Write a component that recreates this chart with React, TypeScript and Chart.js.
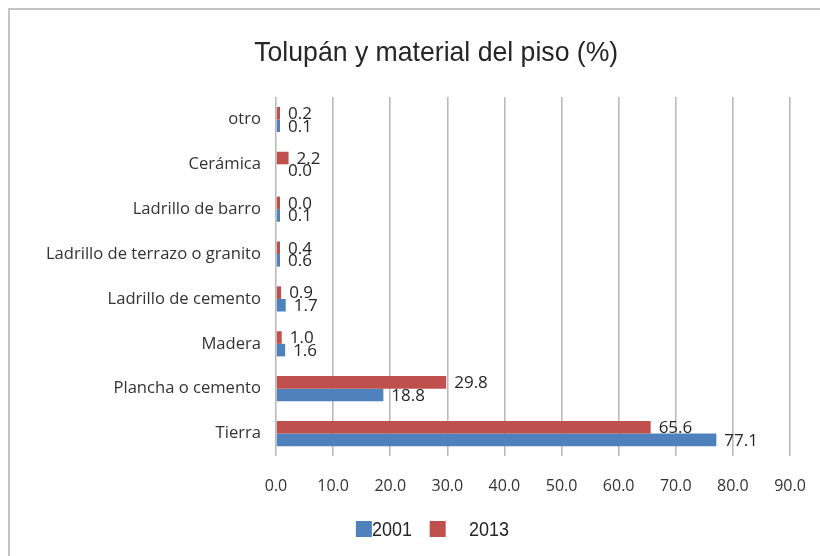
import React, { useEffect, useRef } from 'react';
import { Chart, registerables } from 'chart.js';

Chart.register(...registerables);

const chartTitle = 'Tolupán y material del piso (%)';
const categories = [
  'otro',
  'Cerámica',
  'Ladrillo de barro',
  'Ladrillo de terrazo o granito',
  'Ladrillo de cemento',
  'Madera',
  'Plancha o cemento',
  'Tierra',
];
const seriesNames = ['2001', '2013'];
const values2001 = [0.1, 0.0, 0.1, 0.6, 1.7, 1.6, 18.8, 77.1];
const values2013 = [0.2, 2.2, 0.04, 0.4, 0.9, 1.0, 29.8, 65.6];
const xMin = 0;
const xMax = 90;
const xStep = 10;

const BLUE = '#4F81BD';
const RED = '#C0504D';
const TEXT = '#262626';
const LABEL_FONT = '"Open Sans", "Noto Sans", sans-serif';
const TITLE_FONT = '"Liberation Sans", Arial, sans-serif';

const valueLabels = {
  id: 'valueLabels',
  afterDatasetsDraw(chart: any) {
    const ctx = chart.ctx;
    ctx.save();
    ctx.font = `17px ${LABEL_FONT}`;
    ctx.fillStyle = TEXT;
    ctx.textBaseline = 'middle';
    ctx.textAlign = 'left';
    chart.data.datasets.forEach((ds: any, i: number) => {
      const meta = chart.getDatasetMeta(i);
      meta.data.forEach((bar: any, j: number) => {
        const v = ds.data[j];
        ctx.fillText(Number(v).toFixed(1), bar.x + 8, bar.y + 1);
      });
    });
    ctx.restore();
  },
};

const titleAndLegend = {
  id: 'titleAndLegend',
  afterDraw(chart: any) {
    const ctx = chart.ctx;
    const w = chart.width;
    const h = chart.height;
    ctx.save();
    // title
    ctx.font = `28px ${TITLE_FONT}`;
    ctx.fillStyle = TEXT;
    ctx.textAlign = 'center';
    ctx.textBaseline = 'alphabetic';
    ctx.fillText(chartTitle, w * 0.532, 61, 364);
    // legend
    const colors = [BLUE, RED];
    const boxX = [w * 0.434, w * 0.524];
    const textX = [w * 0.4537, w * 0.572];
    const boxTop = h - 35;
    ctx.font = `20px ${TITLE_FONT}`;
    ctx.textAlign = 'left';
    seriesNames.forEach((name, i) => {
      ctx.fillStyle = colors[i];
      ctx.fillRect(boxX[i], boxTop, 16, 16);
      ctx.fillStyle = TEXT;
      ctx.fillText(name, textX[i], boxTop + 15, 40);
    });
    ctx.restore();
  },
};

export default function App() {
  const canvasRef = useRef<HTMLCanvasElement | null>(null);

  useEffect(() => {
    const canvas = canvasRef.current;
    if (!canvas) return;
    const chart = new Chart(canvas, {
      type: 'bar',
      data: {
        labels: categories,
        datasets: [
          {
            label: seriesNames[1],
            data: values2013,
            backgroundColor: RED,
            categoryPercentage: 0.56,
            barPercentage: 1.0,
            minBarLength: 4,
          },
          {
            label: seriesNames[0],
            data: values2001,
            backgroundColor: (c: any) => (c.raw === 0 ? 'rgba(0,0,0,0)' : BLUE),
            categoryPercentage: 0.56,
            barPercentage: 1.0,
            minBarLength: 4,
          },
        ],
      },
      options: {
        indexAxis: 'y',
        animation: false,
        responsive: false,
        devicePixelRatio: 1,
        layout: { padding: { left: 10, right: 30, top: 97, bottom: 55 } },
        plugins: {
          legend: { display: false },
          title: { display: false },
          tooltip: { enabled: false },
        },
        scales: {
          x: {
            min: xMin,
            max: xMax,
            ticks: {
              stepSize: xStep,
              callback: (v: any) => Number(v).toFixed(1),
              font: { family: LABEL_FONT, size: 16 },
              color: '#333333',
              padding: 21,
            },
            grid: { color: '#bababa', lineWidth: 1.6, drawTicks: false },
            border: { display: false },
            afterFit: (s: any) => {
              s.height = 45;
              s.paddingLeft = 0;
              s.paddingRight = 0;
            },
          },
          y: {
            ticks: {
              font: { family: LABEL_FONT, size: 16.6 },
              color: '#333333',
              padding: 15,
            },
            grid: { display: false, drawTicks: false },
            border: { display: false },
            afterFit: (s: any) => {
              s.width = 266;
              s.paddingTop = 0;
              s.paddingBottom = 0;
            },
          },
        },
      },
      plugins: [valueLabels, titleAndLegend],
    });
    return () => chart.destroy();
  }, []);

  return (
    <div style={{ position: 'fixed', left: 0, top: 0, width: 820, height: 556, background: '#fff' }}>
      <div
        style={{
          position: 'absolute',
          left: 8,
          top: 8,
          width: 830,
          height: 560,
          borderTop: '2px solid #c4c4c4',
          borderLeft: '2px solid #c4c4c4',
        }}
      />
      <canvas
        ref={canvasRef}
        width={820}
        height={556}
        style={{ position: 'absolute', left: 0, top: 0, width: 820, height: 556 }}
      />
    </div>
  );
}
